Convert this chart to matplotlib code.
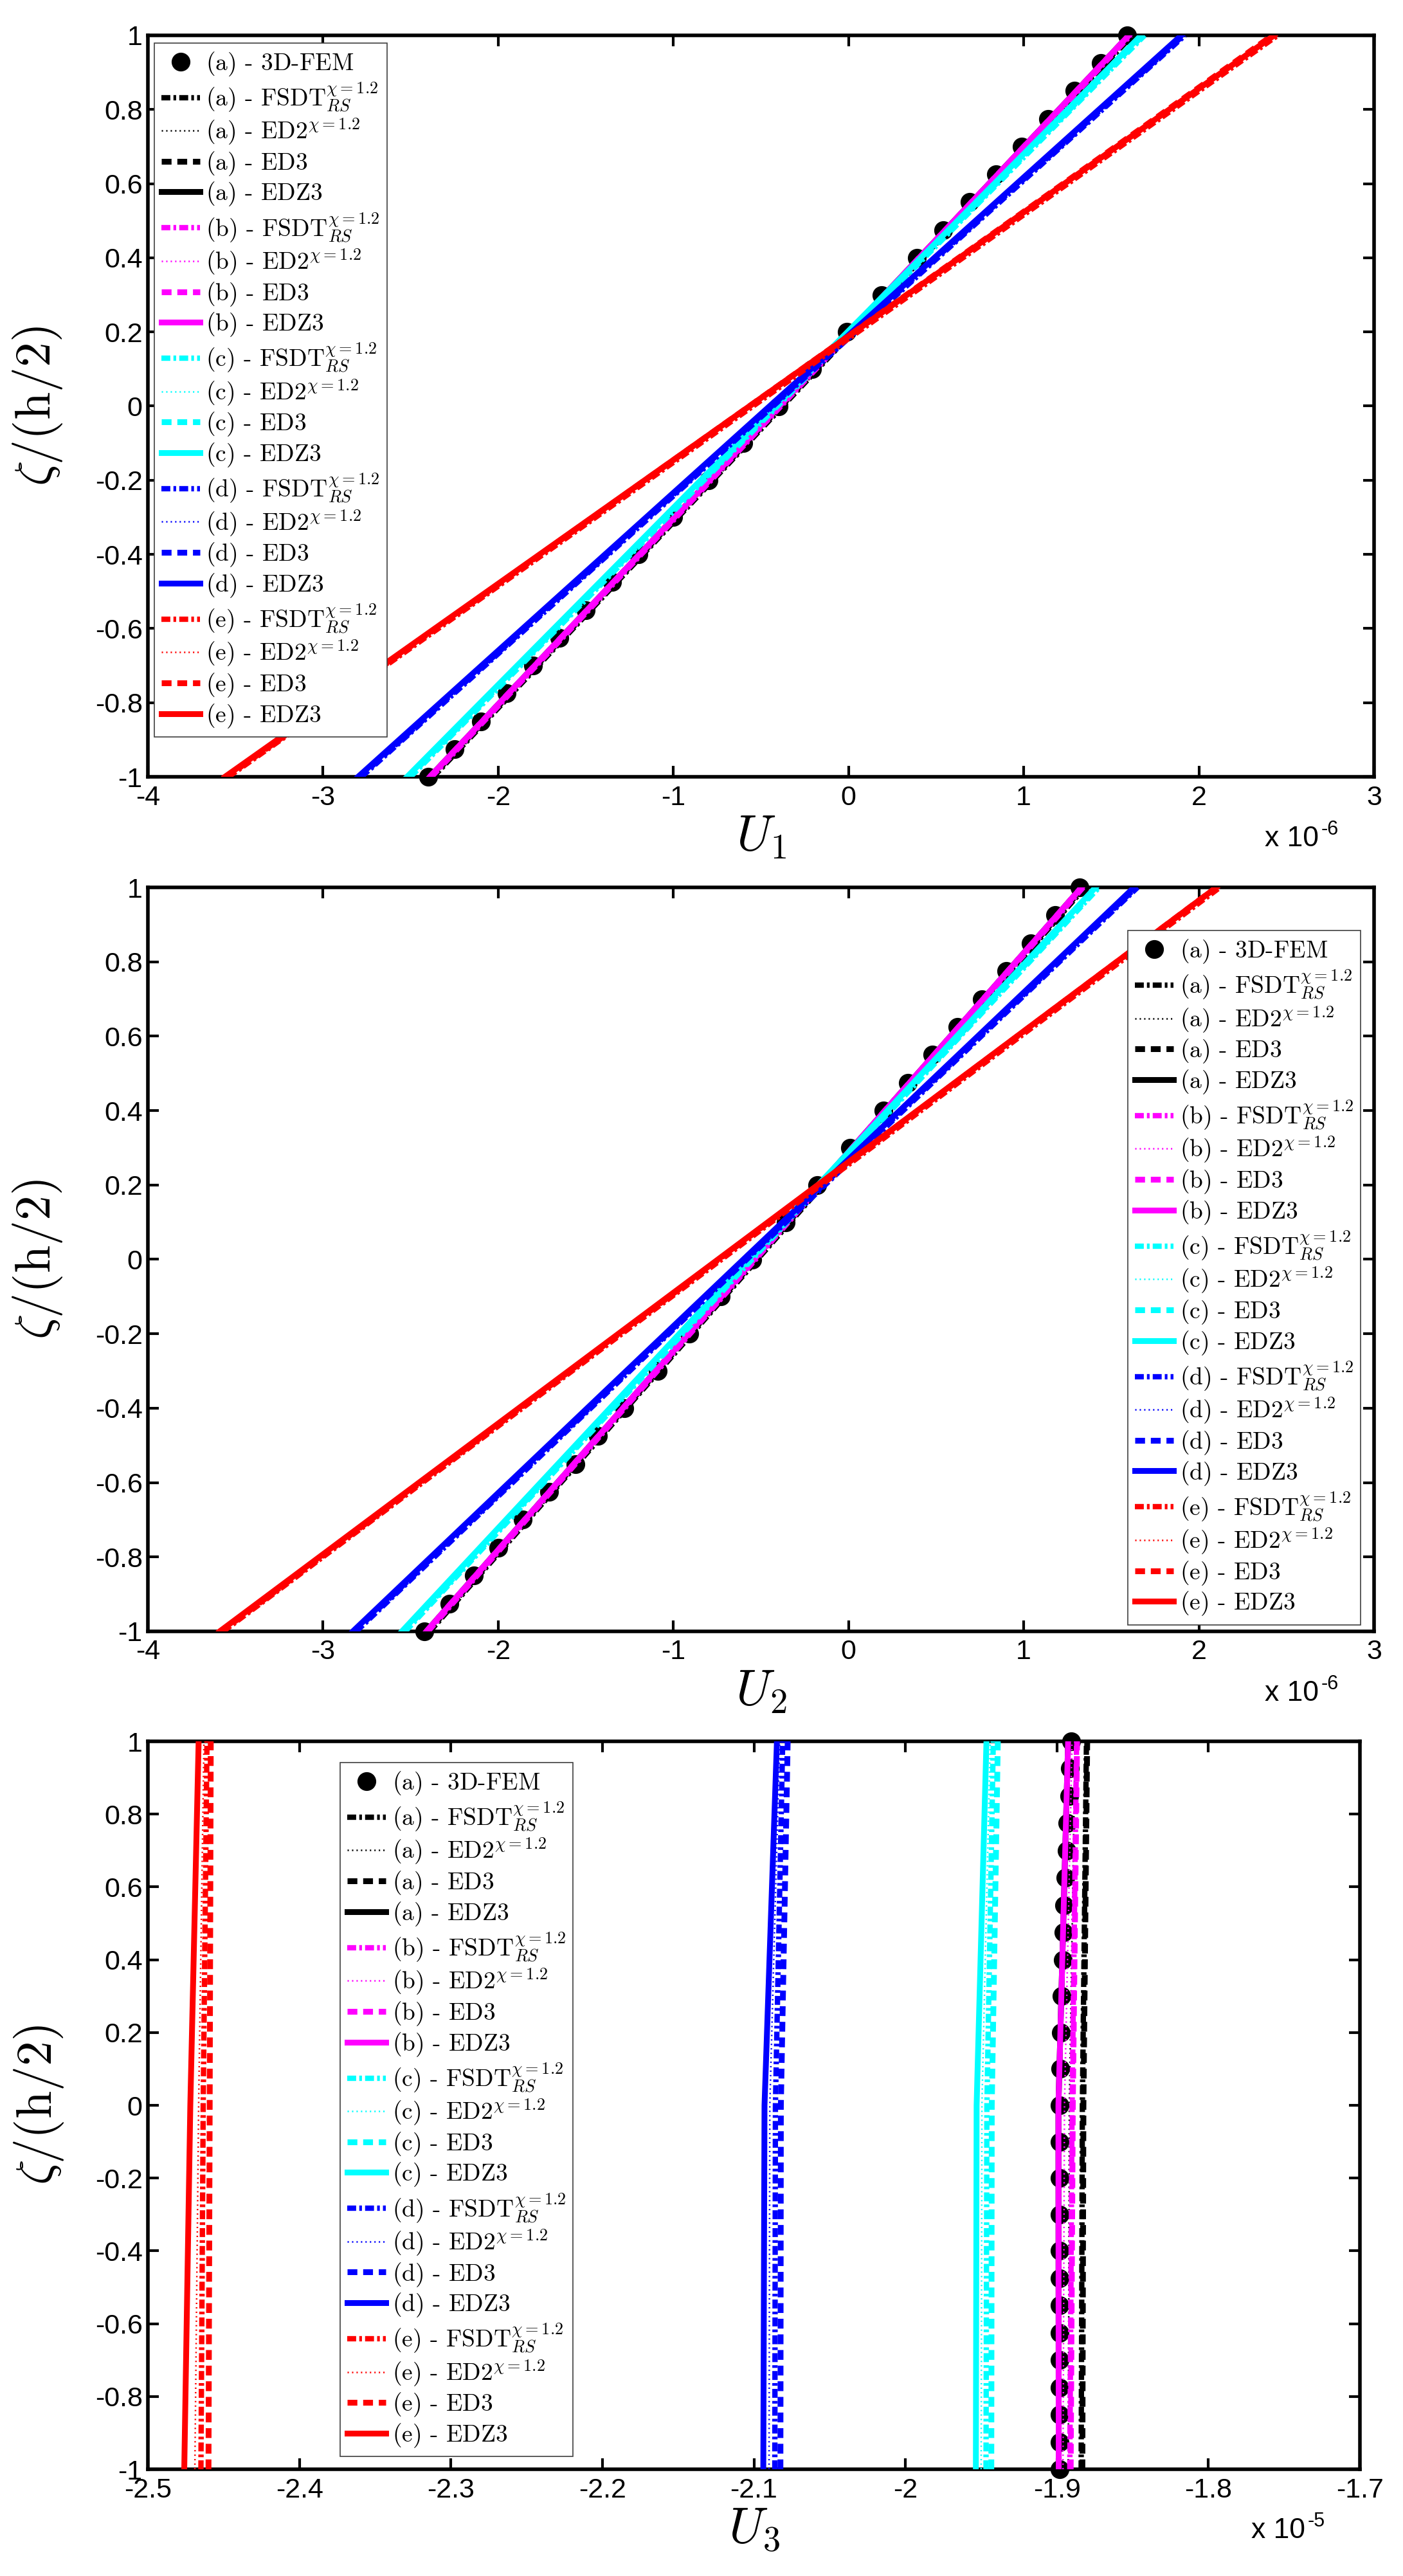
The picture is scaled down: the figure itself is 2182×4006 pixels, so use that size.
import numpy as np
import matplotlib.pyplot as plt
from matplotlib.ticker import FuncFormatter, MultipleLocator

plt.rcParams['font.family'] = 'Liberation Sans'
plt.rcParams['mathtext.fontset'] = 'cm'
plt.rcParams['axes.unicode_minus'] = False
plt.rcParams['lines.scale_dashes'] = False

# cases (a)..(e)
cases = ['a', 'b', 'c', 'd', 'e']

# through-thickness positions of the 3D-FEM nodes
zeta_fem = [1.0, 0.925, 0.85, 0.775, 0.7, 0.625, 0.55, 0.475, 0.4, 0.3, 0.2, 0.1, 0.0,
            -0.1, -0.2, -0.3, -0.4, -0.475, -0.55, -0.625, -0.7, -0.775, -0.85, -0.925, -1.0]
# positions where the model curves were read
zeta_lin = [-1.0, 1.0]
zeta_u3 = [-1.0, 0.0, 1.0]

# U1 (x 1e-6)
u1_fem = [1.59, 1.44, 1.29, 1.14, 0.99, 0.84, 0.69, 0.54, 0.39, 0.19, -0.01, -0.21, -0.40,
          -0.60, -0.80, -1.00, -1.20, -1.35, -1.50, -1.65, -1.80, -1.95, -2.10, -2.25, -2.40]
u1_fsdt = [(-2.37, 1.62), (-2.38, 1.61), (-2.50, 1.69), (-2.78, 1.92), (-3.54, 2.45)]
u1_ed2 = [(-2.38, 1.61), (-2.385, 1.605), (-2.51, 1.68), (-2.79, 1.91), (-3.55, 2.44)]
u1_ed3 = [(-2.38, 1.61), (-2.39, 1.60), (-2.51, 1.68), (-2.79, 1.91), (-3.55, 2.42)]
u1_edz3 = [(-2.39, 1.60), (-2.39, 1.60), (-2.52, 1.67), (-2.80, 1.90), (-3.56, 2.43)]

# U2 (x 1e-6)
u2_fem = [1.32, 1.18, 1.04, 0.90, 0.76, 0.62, 0.48, 0.34, 0.20, 0.01, -0.18, -0.36, -0.55,
          -0.73, -0.91, -1.09, -1.28, -1.43, -1.56, -1.71, -1.86, -2.00, -2.14, -2.28, -2.42]
u2_fsdt = [(-2.39, 1.35), (-2.40, 1.34), (-2.53, 1.43), (-2.81, 1.65), (-3.57, 2.12)]
u2_ed2 = [(-2.40, 1.34), (-2.405, 1.335), (-2.54, 1.42), (-2.82, 1.64), (-3.58, 2.11)]
u2_ed3 = [(-2.40, 1.34), (-2.41, 1.33), (-2.54, 1.42), (-2.82, 1.64), (-3.58, 2.10)]
u2_edz3 = [(-2.41, 1.33), (-2.41, 1.33), (-2.55, 1.41), (-2.83, 1.63), (-3.59, 2.10)]

# U3 (x 1e-5)
u3_fem = [-1.8905, -1.8913, -1.8920, -1.8930, -1.8937, -1.8944, -1.8952, -1.8955, -1.8961,
          -1.8968, -1.8973, -1.8977, -1.8980, -1.8981, -1.8982, -1.8983, -1.8983, -1.8983,
          -1.8983, -1.8984, -1.8984, -1.8984, -1.8984, -1.8983, -1.8982]
u3_fsdt = [(-1.8840, -1.8832, -1.8805), (-1.8915, -1.8900, -1.8870), (-1.9468, -1.9462, -1.9420),
           (-2.0862, -2.0858, -2.0810), (-2.4650, -2.4635, -2.4610)]
u3_ed2 = [(-1.8925, -1.8918, -1.8880), (-1.8960, -1.8950, -1.8900), (-1.9500, -1.9495, -1.9440),
          (-2.0900, -2.0895, -2.0830), (-2.4690, -2.4665, -2.4630)]
u3_ed3 = [(-1.8832, -1.8825, -1.8800), (-1.8909, -1.8895, -1.8867), (-1.9433, -1.9430, -1.9390),
          (-2.0825, -2.0822, -2.0777), (-2.4600, -2.4592, -2.4585)]
u3_edz3 = [(-1.8988, -1.8990, -1.8926), (-1.8988, -1.8990, -1.8926), (-1.9535, -1.9530, -1.9465),
           (-2.0938, -2.0930, -2.0848), (-2.4760, -2.4720, -2.4665)]

colors = ['#000000', '#FF00FF', '#00FFFF', '#0000FF', '#FF0000']
styles = [
    (r'$\text{ - FSDT}_{RS}^{\chi=1.2}$', dict(dashes=(10, 3.5, 3, 3.5), lw=6)),
    (r'$\text{ - ED2}^{\chi=1.2}$', dict(dashes=(1.5, 3.5), lw=1.8)),
    (r'$\text{ - ED3}$', dict(dashes=(11, 6.5), lw=6.5)),
    (r'$\text{ - EDZ3}$', dict(ls='-', lw=6.5)),
]

W, H = 2182, 4006
fig = plt.figure(figsize=(W / 100, H / 100), dpi=100)


def make_axes(x0, y0, x1, y1):
    return fig.add_axes([x0 / W, 1 - y1 / H, (x1 - x0) / W, (y1 - y0) / H])


def fmt(v, pos):
    v = round(v, 6)
    if v == 0:
        v = 0.0
    return '%g' % v


def panel(ax, fem, models, zeta_m, xlim, xstep, xlabel, expo, leg_loc, leg_anchor):
    handles = []
    h, = ax.plot(fem, zeta_fem, 'o', color='k', ms=20, clip_on=False, zorder=2)
    handles.append(h)
    labels = [r'$\text{(a) - 3D-FEM}$']
    for i, c in enumerate(cases):
        for (lab, st), vals in zip(styles, models):
            h, = ax.plot(vals[i], zeta_m, color=colors[i], zorder=3, **st)
            handles.append(h)
            labels.append(r'$\text{(%s)}' % c + lab[1:])
    ax.set_xlim(*xlim)
    ax.set_ylim(-1, 1)
    ax.xaxis.set_major_locator(MultipleLocator(xstep))
    ax.yaxis.set_major_locator(MultipleLocator(0.2))
    ax.xaxis.set_major_formatter(FuncFormatter(fmt))
    ax.yaxis.set_major_formatter(FuncFormatter(fmt))
    ax.tick_params(direction='in', top=True, right=True, length=12, width=3, labelsize=31)
    ax.tick_params(axis='x', pad=9)
    ax.tick_params(axis='y', pad=6)
    for s in ax.spines.values():
        s.set_linewidth(4)
    ax.set_xlabel(xlabel, fontsize=56)
    ax.xaxis.set_label_coords(0.5, -0.05)
    ax.set_ylabel(r'$\zeta/(\mathrm{h}/2)$', fontsize=56)
    ax.yaxis.set_label_coords(-0.068, 0.5)
    ax.text(0.955, -0.066, 'x 10', transform=ax.transAxes, ha='right', va='top', fontsize=32)
    ax.text(0.957, -0.058, expo, transform=ax.transAxes, ha='left', va='top', fontsize=22)
    leg = ax.legend(handles, labels, loc=leg_loc, bbox_to_anchor=leg_anchor, fontsize=27,
                    labelspacing=0.13, handlelength=1.6, handletextpad=0.25, borderpad=0.3,
                    borderaxespad=0, fancybox=False, framealpha=1, edgecolor='0.25')
    leg.get_frame().set_linewidth(1.2)
    leg.set_zorder(5)


ax1 = make_axes(230, 55, 2137, 1208)
panel(ax1, u1_fem, [u1_fsdt, u1_ed2, u1_ed3, u1_edz3], zeta_lin, (-4, 3), 1,
      r'$U_1$', '-6', 'upper left', (0.005, 0.99))

ax2 = make_axes(230, 1380, 2137, 2537)
panel(ax2, u2_fem, [u2_fsdt, u2_ed2, u2_ed3, u2_edz3], zeta_lin, (-4, 3), 1,
      r'$U_2$', '-6', 'lower right', (0.989, 0.009))

ax3 = make_axes(230, 2708, 2115, 3840)
panel(ax3, u3_fem, [u3_fsdt, u3_ed2, u3_ed3, u3_edz3], zeta_u3, (-2.5, -1.7), 0.1,
      r'$U_3$', '-5', 'upper left', (0.1586, 0.971))

fig.savefig('out.png', dpi=100)
